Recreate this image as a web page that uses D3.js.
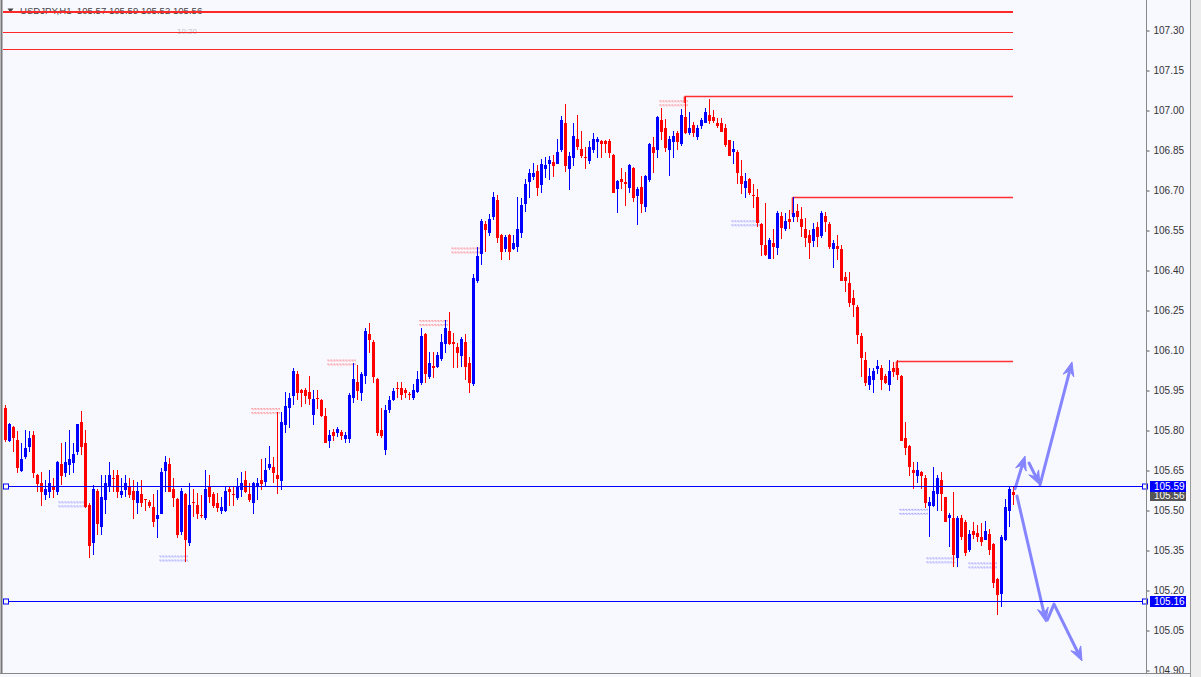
<!DOCTYPE html>
<html><head><meta charset="utf-8">
<script src="https://cdn.jsdelivr.net/npm/d3@7"></script>
<style>html,body{margin:0;padding:0;background:#f8f8ff;overflow:hidden}</style>
</head><body><svg id="c" width="1201" height="677"></svg>
<script>
const symbolTitle = "USDJPY,H1  105.57 105.59 105.52 105.56";
const timeLabel = "10:20";

const opens = [
105.885,105.761,105.813,105.765,105.648,105.701,105.738,105.783,105.633,105.603,
105.558,105.570,105.588,105.570,105.675,105.641,105.671,105.678,105.720,105.832,
105.753,105.521,105.378,105.573,105.438,105.540,105.588,105.622,105.633,105.558,
105.577,105.592,105.573,105.528,105.562,105.543,105.532,105.513,105.468,105.487,
105.648,105.675,105.581,105.543,105.420,105.562,105.378,105.532,105.521,105.483,
105.472,105.588,105.562,105.528,105.498,105.498,105.581,105.562,105.547,105.577,
105.615,105.562,105.528,105.588,105.615,105.607,105.660,105.663,105.633,105.611,
105.821,105.885,105.930,106.012,105.952,105.952,105.945,105.858,105.922,105.914,
105.855,105.761,105.795,105.791,105.795,105.768,105.768,105.922,105.982,105.941,
106.004,106.162,106.132,105.993,105.802,105.727,105.877,105.914,105.960,105.960,
105.952,105.937,105.922,105.945,105.978,106.162,106.001,106.042,106.038,106.068,
106.124,106.173,106.132,106.113,106.079,106.132,106.053,105.974,106.361,106.462,
106.574,106.541,106.601,106.664,106.533,106.481,106.533,106.481,106.488,106.541,
106.649,106.732,106.751,106.773,106.720,106.781,106.799,106.807,106.799,106.852,
106.953,106.781,106.822,106.893,106.856,106.826,106.811,106.852,106.882,106.886,
106.886,106.886,106.833,106.706,106.743,106.732,106.709,106.784,106.679,106.713,
106.638,106.739,106.863,106.852,106.964,106.934,106.852,106.882,106.916,106.874,
106.976,106.916,106.946,106.901,106.942,106.953,106.983,106.976,106.953,106.953,
106.934,106.889,106.844,106.844,106.754,106.709,106.743,106.683,106.676,106.574,
106.496,106.443,106.503,106.484,106.604,106.556,106.593,106.601,106.623,106.593,
106.556,106.533,106.511,106.563,106.529,106.604,106.574,106.481,106.492,106.481,
106.376,106.353,106.297,106.263,106.154,106.064,105.971,105.989,106.031,106.034,
106.004,105.971,106.034,106.034,106.004,105.772,105.742,105.652,105.630,105.645,
105.622,105.517,105.517,105.562,105.615,105.551,105.472,105.472,105.322,105.472,
105.457,105.352,105.423,105.416,105.401,105.389,105.412,105.374,105.243,105.187,
105.389,105.498,105.570];

const highs = [
105.896,105.829,105.817,105.798,105.753,105.802,105.798,105.798,105.637,105.645,
105.615,105.652,105.622,105.686,105.753,105.757,105.802,105.753,105.825,105.873,
105.802,105.528,105.596,105.581,105.633,105.633,105.682,105.652,105.652,105.622,
105.633,105.622,105.615,105.607,105.615,105.543,105.540,105.562,105.577,105.660,
105.705,105.697,105.622,105.547,105.585,105.566,105.603,105.581,105.566,105.558,
105.652,105.633,105.570,105.566,105.551,105.588,105.588,105.588,105.622,105.645,
105.648,105.603,105.607,105.622,105.693,105.697,105.742,105.701,105.870,105.870,
105.945,105.941,106.034,106.023,105.956,105.960,106.004,105.952,105.952,105.918,
105.885,105.802,105.806,105.813,105.802,105.795,105.941,106.053,106.046,106.019,
106.184,106.203,106.139,105.997,105.885,105.896,105.930,105.960,105.982,105.982,
105.960,105.945,105.974,106.023,106.184,106.166,106.094,106.094,106.094,106.162,
106.214,106.244,106.166,106.128,106.151,106.162,106.076,106.387,106.488,106.593,
106.586,106.612,106.694,106.683,106.537,106.533,106.537,106.533,106.676,106.672,
106.743,106.781,106.803,106.796,106.818,106.826,106.829,106.833,106.893,106.979,
107.024,106.844,106.953,106.983,106.923,106.863,106.886,106.916,106.901,106.889,
106.889,106.893,106.837,106.739,106.784,106.769,106.799,106.788,106.713,106.754,
106.758,106.878,106.901,106.979,107.009,106.968,106.904,106.923,106.923,107.006,
107.051,106.994,106.957,106.946,106.972,107.009,107.043,107.002,106.972,106.972,
106.949,106.889,106.886,106.852,106.814,106.766,106.747,106.724,106.706,106.578,
106.653,106.522,106.556,106.623,106.619,106.616,106.627,106.676,106.649,106.638,
106.597,106.552,106.578,106.582,106.623,106.619,106.582,106.514,106.533,106.496,
106.394,106.394,106.327,106.271,106.166,106.094,106.034,106.034,106.064,106.046,
106.012,106.064,106.057,106.064,106.008,105.832,105.746,105.682,105.682,105.648,
105.633,105.551,105.663,105.633,105.645,105.551,105.491,105.570,105.479,105.483,
105.464,105.427,105.457,105.446,105.453,105.461,105.431,105.378,105.247,105.408,
105.543,105.588,105.590];

const lows = [
105.757,105.757,105.720,105.641,105.645,105.693,105.720,105.622,105.570,105.517,
105.540,105.547,105.547,105.558,105.596,105.626,105.633,105.641,105.708,105.708,
105.510,105.322,105.333,105.408,105.408,105.487,105.570,105.570,105.547,105.547,
105.551,105.547,105.468,105.487,105.513,105.498,105.510,105.438,105.397,105.487,
105.570,105.570,105.513,105.397,105.408,105.307,105.367,105.476,105.468,105.472,
105.464,105.528,105.510,105.494,105.487,105.494,105.517,105.517,105.540,105.551,
105.566,105.532,105.487,105.540,105.577,105.588,105.652,105.603,105.562,105.577,
105.791,105.810,105.896,105.914,105.888,105.899,105.896,105.821,105.881,105.851,
105.753,105.735,105.761,105.776,105.765,105.753,105.753,105.903,105.914,105.911,
105.974,106.091,105.978,105.780,105.772,105.708,105.866,105.911,105.922,105.914,
105.922,105.914,105.914,105.941,105.971,105.978,105.993,105.997,106.034,106.061,
106.091,106.121,106.034,106.034,106.038,105.989,105.941,105.967,106.353,106.421,
106.469,106.529,106.589,106.503,106.439,106.469,106.439,106.477,106.469,106.522,
106.619,106.672,106.739,106.679,106.690,106.747,106.739,106.751,106.799,106.844,
106.769,106.702,106.792,106.852,106.822,106.781,106.799,106.841,106.822,106.822,
106.841,106.822,106.691,106.616,106.706,106.642,106.691,106.657,106.571,106.616,
106.619,106.732,106.766,106.822,106.889,106.844,106.754,106.822,106.852,106.867,
106.912,106.908,106.901,106.889,106.931,106.953,106.949,106.953,106.934,106.919,
106.863,106.829,106.799,106.724,106.687,106.672,106.683,106.634,106.563,106.454,
106.454,106.443,106.443,106.458,106.518,106.548,106.556,106.582,106.582,106.526,
106.488,106.443,106.488,106.488,106.522,106.544,106.481,106.409,106.439,106.361,
106.319,106.263,106.226,106.124,106.001,105.967,105.952,105.941,106.012,105.952,
105.974,105.948,106.001,105.989,105.761,105.708,105.630,105.581,105.603,105.581,
105.510,105.401,105.513,105.498,105.498,105.457,105.363,105.288,105.288,105.390,
105.329,105.344,105.393,105.382,105.367,105.389,105.333,105.209,105.108,105.138,
105.386,105.438,105.520];

const closes = [
105.765,105.825,105.772,105.660,105.693,105.735,105.772,105.641,105.600,105.570,
105.581,105.603,105.577,105.682,105.630,105.682,105.693,105.712,105.825,105.738,
105.513,105.367,105.581,105.450,105.551,105.603,105.633,105.618,105.570,105.573,
105.603,105.558,105.540,105.573,105.528,105.540,105.517,105.457,105.483,105.645,
105.682,105.570,105.547,105.408,105.573,105.390,105.521,105.528,105.487,105.479,
105.581,105.551,105.517,105.510,105.513,105.573,105.570,105.558,105.588,105.603,
105.570,105.540,105.603,105.603,105.600,105.652,105.675,105.641,105.618,105.832,
105.892,105.922,106.023,105.941,105.941,105.930,105.918,105.918,105.918,105.855,
105.753,105.783,105.780,105.806,105.780,105.783,105.933,105.993,105.948,106.012,
106.173,106.139,106.001,105.791,105.780,105.877,105.914,105.948,105.956,105.933,
105.941,105.933,105.952,105.993,106.154,106.012,106.053,106.034,106.083,106.132,
106.184,106.124,106.124,106.091,106.143,106.038,105.978,106.372,106.454,106.586,
106.552,106.593,106.676,106.522,106.469,106.526,106.469,106.503,106.556,106.646,
106.724,106.766,106.766,106.709,106.799,106.796,106.814,106.792,106.844,106.964,
106.792,106.829,106.904,106.863,106.829,106.822,106.863,106.893,106.893,106.874,
106.874,106.841,106.691,106.736,106.732,106.724,106.796,106.672,106.706,106.649,
106.754,106.874,106.841,106.976,106.919,106.859,106.893,106.904,106.882,106.983,
106.916,106.934,106.916,106.934,106.964,106.994,106.961,106.961,106.942,106.919,
106.871,106.829,106.856,106.766,106.724,106.736,106.691,106.679,106.578,106.496,
106.458,106.514,106.488,106.616,106.559,106.586,106.582,106.616,106.601,106.563,
106.522,106.503,106.556,106.526,106.616,106.582,106.488,106.503,106.481,106.361,
106.361,106.278,106.271,106.158,106.072,105.978,106.004,106.023,106.042,105.989,
105.978,106.023,106.019,106.008,105.761,105.735,105.663,105.641,105.652,105.630,
105.528,105.532,105.573,105.622,105.562,105.457,105.483,105.333,105.472,105.401,
105.341,105.412,105.408,105.401,105.382,105.423,105.352,105.228,105.183,105.401,
105.513,105.581,105.560];

const axisTicks = [104.90,105.05,105.20,105.35,105.50,105.65,105.80,105.95,106.10,106.25,106.40,106.55,106.70,106.85,107.00,107.15,107.30];

// horizontal red levels across the whole history
const topLevels = [107.374, 107.293, 107.232];
// swing levels: start candle, level price, price where the short vertical ends
const swingStart = [169.8, 196.8, 222.8];
const swingLevel = [107.054, 106.674, 106.062];
const swingFoot  = [107.028, 106.610, 106.010];
// blue support/resistance lines
const blueLevels = [105.59, 105.16];
const bidPrice = 105.56;
// small pending-order markers: last candle covered, upper row price, side
const markerEnd   = [20.5, 45.75, 68.75, 87.75, 110.75, 118.75, 170.75, 188.75, 230.75, 237.5, 248];
const markerPrice = [105.532, 105.329, 105.882, 106.064, 106.212, 106.484, 107.036, 106.586, 105.504, 105.322, 105.303];
const markerSide  = ["buy","buy","sell","sell","sell","sell","sell","buy","buy","buy","buy"];
// projected-path arrows (candle index, price)
const arrowPaths = [
  [[252.5,105.581],[255.0,105.704]],
  [[256.0,105.678],[258.75,105.596]],
  [[258.75,105.596],[266.75,106.057]],
  [[253.0,105.554],[260.25,105.082]],
  [[260.6,105.090],[262.25,105.149],[269.25,104.936]]
];

const svg = d3.select("#c");
const W = 1201, H = 677;
const plotL = 3, plotR = 1146, plotB = 673;
const x = d3.scaleLinear().domain([0, 252]).range([5, 1013]);
const y = d3.scaleLinear().domain([104.90, 107.30]).range([670.5, 30.5]);

svg.append("rect").attr("width", W).attr("height", H).attr("fill", "#f8f8ff");

const defs = svg.append("defs");
defs.append("clipPath").attr("id","plotclip").append("rect")
  .attr("x", plotL).attr("y", 0).attr("width", plotR - plotL).attr("height", plotB);
defs.append("clipPath").attr("id","axisclip").append("rect")
  .attr("x", plotR).attr("y", 0).attr("width", 60).attr("height", plotB);

// title
const title = svg.append("g");
title.append("path").attr("d", "M7.5,8.5 L13.5,8.5 L10.5,12.5 Z").attr("fill", "#444");
title.append("text").attr("x", 20).attr("y", 13.5).attr("font-family", "'Liberation Sans', Arial, sans-serif")
  .attr("font-size", "9.6px").attr("fill", "#444").attr("xml:space","preserve").text(symbolTitle);

const plot = svg.append("g").attr("clip-path", "url(#plotclip)");

// time label
plot.append("text").attr("x", 177).attr("y", 34).attr("font-family", "'Liberation Sans', Arial, sans-serif")
  .attr("font-size", "8px").attr("fill", "#c4c4c4").text(timeLabel);

// top levels
plot.selectAll("line.top").data(topLevels).join("line")
  .attr("x1", plotL).attr("x2", x(252))
  .attr("y1", d => Math.round(y(d)) + 0.5).attr("y2", d => Math.round(y(d)) + 0.5)
  .attr("stroke", "#ff2828").attr("stroke-width", (d, i) => i === 0 ? 2 : 1)
  .attr("shape-rendering", "crispEdges");

// swing levels
swingLevel.forEach((lv, i) => {
  const yy = Math.round(y(lv)) + 0.5, xx = Math.round(x(swingStart[i])) + 0.5;
  plot.append("line").attr("x1", xx).attr("x2", x(252)).attr("y1", yy).attr("y2", yy)
    .attr("stroke", "#ff3030").attr("stroke-width", 1.6);
  plot.append("line").attr("x1", xx).attr("x2", xx).attr("y1", yy).attr("y2", y(swingFoot[i]))
    .attr("stroke", "#ff3030").attr("stroke-width", 1.6);
});

// markers
markerEnd.forEach((e, i) => {
  const x2 = x(e), x1 = x(e - 7.2);
  const y0 = y(markerPrice[i]);
  const col = markerSide[i] === "buy" ? "#7070ff" : "#ff5050";
  [0, 4].forEach(off => {
    plot.append("line").attr("x1", x1).attr("x2", x2).attr("y1", y0 + off).attr("y2", y0 + off)
      .attr("stroke", col).attr("stroke-width", 1).attr("stroke-dasharray", "2,1").attr("opacity", 0.55);
    plot.append("line").attr("x1", x1 + 1).attr("x2", x2).attr("y1", y0 + off + 1).attr("y2", y0 + off + 1)
      .attr("stroke", col).attr("stroke-width", 1).attr("stroke-dasharray", "2,1").attr("opacity", 0.35);
  });
});

// candles
const idx = d3.range(opens.length);
const cg = plot.append("g").attr("shape-rendering", "crispEdges");
cg.selectAll("line.w").data(idx).join("line")
  .attr("x1", i => Math.round(x(i)) + 0.5).attr("x2", i => Math.round(x(i)) + 0.5)
  .attr("y1", i => y(highs[i])).attr("y2", i => y(lows[i]))
  .attr("stroke", i => closes[i] >= opens[i] ? "#0000ff" : "#ff0000");
cg.selectAll("rect.b").data(idx).join("rect")
  .attr("x", i => Math.round(x(i)) - 1).attr("width", 3)
  .attr("y", i => y(Math.max(opens[i], closes[i])))
  .attr("height", i => Math.max(1, Math.abs(y(opens[i]) - y(closes[i]))))
  .attr("fill", i => closes[i] >= opens[i] ? "#0000ff" : "#ff0000");

// blue levels
blueLevels.forEach(lv => {
  const yy = Math.round(y(lv)) + 0.5;
  svg.append("line").attr("x1", plotL).attr("x2", plotR).attr("y1", yy).attr("y2", yy)
    .attr("stroke", "#0000ff").attr("stroke-width", 1);
  [6, plotR - 1].forEach(cx => {
    svg.append("rect").attr("x", cx - 2.5).attr("y", yy - 2.5).attr("width", 5).attr("height", 5)
      .attr("fill", "#ffffff").attr("stroke", "#0000ff").attr("stroke-width", 1);
  });
});

// arrows
const line = d3.line().x(d => x(d[0])).y(d => y(d[1]));
const ag = plot.append("g");
arrowPaths.forEach(p => {
  const n = p.length;
  const xe = x(p[n-1][0]), ye = y(p[n-1][1]);
  const xs = x(p[n-2][0]), ys = y(p[n-2][1]);
  const ang = Math.atan2(ye - ys, xe - xs);
  const L = 14, Wd = 5.5;
  const bx = xe - L * Math.cos(ang), by = ye - L * Math.sin(ang);
  const pts = p.slice(0, n - 1).concat([[x.invert(xe - (L-3) * Math.cos(ang)), y.invert(ye - (L-3) * Math.sin(ang))]]);
  ag.append("path").attr("d", line(pts)).attr("fill", "none")
    .attr("stroke", "#8585ff").attr("stroke-width", 3).attr("stroke-linejoin", "round").attr("stroke-linecap","round");
  const px = -Math.sin(ang), py = Math.cos(ang);
  ag.append("path").attr("d",
    `M${xe},${ye} L${bx + px*Wd},${by + py*Wd} L${xe - (L-5)*Math.cos(ang)},${ye - (L-5)*Math.sin(ang)} L${bx - px*Wd},${by - py*Wd} Z`)
    .attr("fill", "#8585ff").attr("stroke", "#8585ff").attr("stroke-width", 1).attr("stroke-linejoin","round");
});

// price axis
const axG = svg.append("g").attr("clip-path", "url(#axisclip)");
const axis = d3.axisRight(y).tickValues(axisTicks).tickFormat(d3.format(".2f")).tickSize(3).tickPadding(4);
const ax = axG.append("g").attr("transform", `translate(${plotR + 0.5},0)`).call(axis);
ax.select(".domain").remove();
ax.selectAll(".tick line").attr("stroke", "#555");
ax.selectAll(".tick text").attr("font-family", "'Liberation Sans', Arial, sans-serif")
  .attr("font-size", "10px").attr("fill", "#333");

// price tags
function tag(price, fill) {
  const yy = y(price);
  svg.append("rect").attr("x", plotR + 4).attr("y", Math.round(yy) - 5).attr("width", 36).attr("height", 11).attr("fill", fill);
  svg.append("text").attr("x", plotR + 8).attr("y", Math.round(yy) + 4)
    .attr("font-family", "'Liberation Sans', Arial, sans-serif").attr("font-size", "10px").attr("fill", "#fff")
    .text(d3.format(".2f")(price));
}
tag(bidPrice, "#555555");
tag(blueLevels[0], "#0000ff");
tag(blueLevels[1], "#0000ff");

// frame
svg.append("line").attr("x1", 1.5).attr("x2", 1.5).attr("y1", 0).attr("y2", plotB).attr("stroke", "#777").attr("stroke-width", 2);
svg.append("line").attr("x1", plotR + 0.5).attr("x2", plotR + 0.5).attr("y1", 0).attr("y2", plotB).attr("stroke", "#888");
svg.append("line").attr("x1", 0).attr("x2", 1190).attr("y1", plotB + 0.5).attr("y2", plotB + 0.5).attr("stroke", "#888");
svg.append("rect").attr("x", 1190).attr("y", 0).attr("width", 11).attr("height", H).attr("fill", "#eeeeee");
svg.append("line").attr("x1", 1190.5).attr("x2", 1190.5).attr("y1", 0).attr("y2", H).attr("stroke", "#999");
</script></body></html>
